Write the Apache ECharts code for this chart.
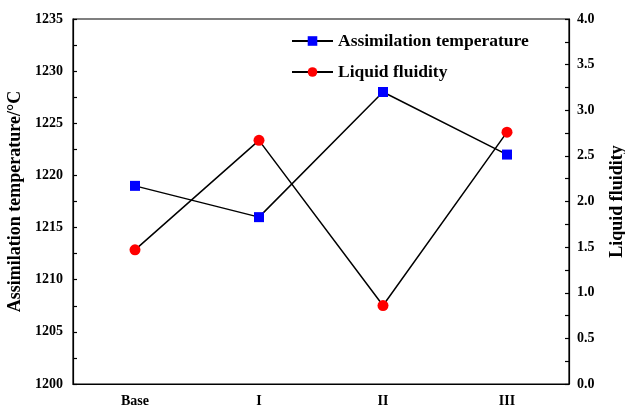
<!DOCTYPE html>
<html>
<head>
<meta charset="utf-8">
<script src="https://cdn.jsdelivr.net/npm/echarts@6/dist/echarts.min.js"></script>
<style>
  html, body { margin: 0; padding: 0; background: #fff; }
  #chart { width: 625px; height: 407px; }
</style>
</head>
<body>
<div id="chart"></div>
<script>
// Schemes compared along the x axis
const schemes = ['Base', 'I', 'II', 'III'];
// Assimilation temperature, °C (left axis)
const assimilationTemp = [1219, 1216, 1228, 1222];
// Liquid fluidity (right axis)
const liquidFluidity = [1.47, 2.67, 0.86, 2.76];

const serif = '"Liberation Serif", "Times New Roman", serif';
const black = '#000';

const chart = echarts.init(document.getElementById('chart'), null, { renderer: 'canvas' });

chart.setOption({
  animation: false,
  backgroundColor: '#fff',
  grid: {
    left: 73, right: 56, top: 19, bottom: 23,
    outerBoundsMode: 'none', containLabel: false,
    show: true, borderColor: black, borderWidth: 1.2, backgroundColor: 'transparent'
  },
  legend: {
    left: 286, top: 27, orient: 'vertical',
    itemWidth: 41, itemHeight: 12, itemGap: 13,
    textStyle: { fontFamily: serif, fontWeight: 'bold', fontSize: 17.5, color: black },
    data: ['Assimilation temperature', 'Liquid fluidity']
  },
  xAxis: {
    type: 'category',
    data: schemes,
    boundaryGap: true,
    axisLine: { lineStyle: { color: black, width: 1.2 } },
    axisTick: { inside: true, length: 6, alignWithLabel: true, lineStyle: { color: black, width: 1.2 } },
    axisLabel: { fontFamily: serif, fontWeight: 'bold', fontSize: 14, color: black, margin: 10 },
    splitLine: { show: false }
  },
  yAxis: [
    {
      type: 'value', position: 'left',
      min: 1200, max: 1235, interval: 5,
      name: 'Assimilation temperature/°C',
      nameLocation: 'middle', nameGap: 41, nameRotate: 90,
      nameTextStyle: { fontFamily: serif, fontWeight: 'bold', fontSize: 18, color: black },
      axisLine: { show: true, lineStyle: { color: black, width: 1.2 } },
      axisTick: { show: true, inside: true, length: 4, lineStyle: { color: black, width: 1.2 } },
      minorTick: { show: true, splitNumber: 2, length: 4, lineStyle: { color: black, width: 1.2 } },
      axisLabel: {
        fontFamily: serif, fontWeight: 'bold', fontSize: 14, color: black, margin: 10,
        formatter: v => String(v)
      },
      splitLine: { show: false }
    },
    {
      type: 'value', position: 'right',
      min: 0, max: 4, interval: 0.5,
      name: 'Liquid fluidity',
      nameLocation: 'middle', nameGap: 39, nameRotate: 90,
      nameTextStyle: { fontFamily: serif, fontWeight: 'bold', fontSize: 18, color: black },
      axisLine: { show: true, lineStyle: { color: black, width: 1.2 } },
      axisTick: { show: true, inside: true, length: 4, lineStyle: { color: black, width: 1.2 } },
      minorTick: { show: true, splitNumber: 2, length: 4, lineStyle: { color: black, width: 1.2 } },
      axisLabel: {
        fontFamily: serif, fontWeight: 'bold', fontSize: 14, color: black, margin: 8,
        formatter: v => v.toFixed(1)
      },
      splitLine: { show: false }
    }
  ],
  series: [
    {
      name: 'Assimilation temperature',
      type: 'line', yAxisIndex: 0,
      data: assimilationTemp,
      symbol: 'rect', symbolSize: 10,
      itemStyle: { color: '#0000ff' },
      lineStyle: { color: black, width: 1.5 }
    },
    {
      name: 'Liquid fluidity',
      type: 'line', yAxisIndex: 1,
      data: liquidFluidity,
      symbol: 'circle', symbolSize: 11,
      itemStyle: { color: '#ff0000' },
      lineStyle: { color: black, width: 1.5 }
    }
  ]
});
</script>
</body>
</html>
